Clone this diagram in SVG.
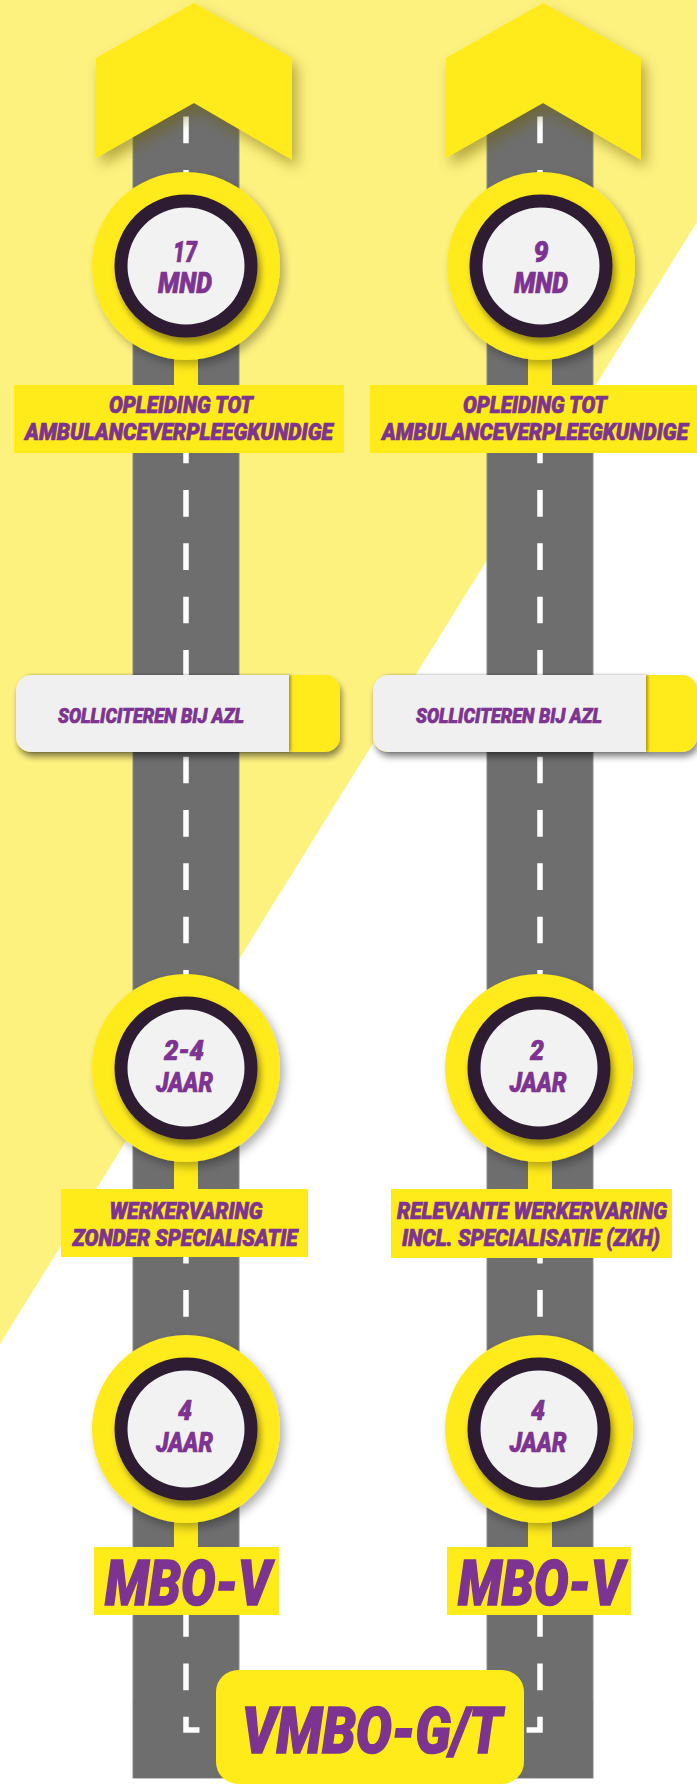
<svg xmlns="http://www.w3.org/2000/svg" width="697" height="1786" viewBox="0 0 697 1786">
<style>
.road{fill:#6e6e6e;stroke:#8a8a8a;stroke-width:1}
.dash{fill:none;stroke:#ffffff;stroke-width:5.5;stroke-dasharray:26.67 26.67}
.yel{fill:#ffea1a}
.ring{fill:#2f1a33}
.face{fill:#f2f2f2}
.gray{fill:#f0f0f0}
.t{font-family:Roboto,"Liberation Sans",sans-serif;font-weight:900;font-style:italic;fill:#7d3391;stroke:#7d3391;stroke-width:0.7;text-anchor:middle}
.big{stroke-width:1.6}
</style>
<defs>
<filter id="chevShadow" x="-20%" y="-20%" width="150%" height="150%">
<feDropShadow dx="5" dy="8" stdDeviation="7" flood-color="#6b5e00" flood-opacity="0.5"/>
</filter>
<filter id="circShadow" x="-20%" y="-20%" width="150%" height="150%">
<feDropShadow dx="4" dy="5" stdDeviation="5" flood-color="#000" flood-opacity="0.3"/>
</filter>
<filter id="ringShadow" x="-20%" y="-20%" width="150%" height="150%">
<feDropShadow dx="3" dy="6" stdDeviation="3" flood-color="#000" flood-opacity="0.4"/>
</filter>
<filter id="boxShadow" x="-10%" y="-20%" width="120%" height="160%">
<feDropShadow dx="2" dy="5" stdDeviation="3" flood-color="#000" flood-opacity="0.45"/>
</filter>
<filter id="innerShadow" x="-10%" y="-10%" width="120%" height="130%">
<feDropShadow dx="2" dy="0" stdDeviation="1.5" flood-color="#000" flood-opacity="0.35"/>
</filter>
</defs>

<g id="background">
<rect x="0" y="0" width="697" height="1786" fill="#fef27f"/>
<polygon points="697,222 697,1786 0,1786 0,1344" fill="#ffffff"/>
</g>

<g id="roads">
<rect class="road" x="133" y="60" width="106" height="1718"/>
<rect class="road" x="487" y="60" width="106" height="1718"/>
<rect x="133.5" y="1700" width="459" height="78" fill="#6e6e6e"/>
<path class="dash" d="M186,116.6 V1730 H260"/>
<path class="dash" d="M540,116.6 V1730 H466"/>
</g>

<g id="connectors">
<rect class="yel" x="174" y="355" width="24" height="32"/>
<rect class="yel" x="528" y="355" width="24" height="32"/>
<rect class="yel" x="174" y="1156" width="24" height="35"/>
<rect class="yel" x="528" y="1156" width="24" height="35"/>
<rect class="yel" x="174" y="1517" width="24" height="32"/>
<rect class="yel" x="528" y="1517" width="24" height="32"/>
</g>

<g id="chevron-left">
<polygon class="yel" filter="url(#chevShadow)" points="96,58 194,3 292,58 292,160 194,103 96,158"/>
</g>
<g id="chevron-right">
<polygon class="yel" filter="url(#chevShadow)" points="446,58 543,3 641,58 641,160 543,103 446,158"/>
</g>

<g id="circle-17mnd">
<circle class="yel" cx="186" cy="266" r="94" filter="url(#circShadow)"/>
<circle class="ring" cx="186" cy="266" r="71.5" filter="url(#ringShadow)"/>
<circle class="face" cx="186" cy="266" r="58.5"/>
<text class="t" x="185" y="262" font-size="29" textLength="24" lengthAdjust="spacingAndGlyphs">17</text>
<text class="t" x="185" y="293" font-size="29" textLength="54" lengthAdjust="spacingAndGlyphs">MND</text>
</g>
<g id="circle-9mnd">
<circle class="yel" cx="541" cy="266" r="94" filter="url(#circShadow)"/>
<circle class="ring" cx="541" cy="266" r="71.5" filter="url(#ringShadow)"/>
<circle class="face" cx="541" cy="266" r="58.5"/>
<text class="t" x="541" y="262" font-size="29" textLength="15" lengthAdjust="spacingAndGlyphs">9</text>
<text class="t" x="541" y="293" font-size="29" textLength="54" lengthAdjust="spacingAndGlyphs">MND</text>
</g>

<g id="label-opleiding-left">
<rect class="yel" x="14" y="385" width="330" height="68"/>
<text class="t" x="181" y="413" font-size="23" textLength="144" lengthAdjust="spacingAndGlyphs">OPLEIDING TOT</text>
<text class="t" x="179" y="440" font-size="23" textLength="308" lengthAdjust="spacingAndGlyphs">AMBULANCEVERPLEEGKUNDIGE</text>
</g>
<g id="label-opleiding-right">
<rect class="yel" x="370" y="385" width="327" height="68"/>
<text class="t" x="535" y="413" font-size="23" textLength="144" lengthAdjust="spacingAndGlyphs">OPLEIDING TOT</text>
<text class="t" x="535" y="440" font-size="23" textLength="306" lengthAdjust="spacingAndGlyphs">AMBULANCEVERPLEEGKUNDIGE</text>
</g>

<g id="solliciteren-left">
<rect class="yel" x="16" y="675" width="324" height="77" rx="15" filter="url(#boxShadow)"/>
<path class="gray" filter="url(#innerShadow)" d="M31,675 H289 V752 H31 A15,15 0 0 1 16,737 V690 A15,15 0 0 1 31,675 Z"/>
<text class="t" x="151" y="723" font-size="21" textLength="186" lengthAdjust="spacingAndGlyphs">SOLLICITEREN BIJ AZL</text>
</g>
<g id="solliciteren-right">
<rect class="yel" x="373" y="675" width="324" height="77" rx="15" filter="url(#boxShadow)"/>
<path class="gray" filter="url(#innerShadow)" d="M388,675 H646 V752 H388 A15,15 0 0 1 373,737 V690 A15,15 0 0 1 388,675 Z"/>
<text class="t" x="509" y="723" font-size="21" textLength="186" lengthAdjust="spacingAndGlyphs">SOLLICITEREN BIJ AZL</text>
</g>

<g id="circle-2-4jaar">
<circle class="yel" cx="186" cy="1068" r="94" filter="url(#circShadow)"/>
<circle class="ring" cx="186" cy="1068" r="71.5" filter="url(#ringShadow)"/>
<circle class="face" cx="186" cy="1068" r="58.5"/>
<text class="t" x="184" y="1060" font-size="28" textLength="40" lengthAdjust="spacingAndGlyphs">2-4</text>
<text class="t" x="184.5" y="1092" font-size="28" textLength="57" lengthAdjust="spacingAndGlyphs">JAAR</text>
</g>
<g id="circle-2jaar">
<circle class="yel" cx="539" cy="1068" r="94" filter="url(#circShadow)"/>
<circle class="ring" cx="539" cy="1068" r="71.5" filter="url(#ringShadow)"/>
<circle class="face" cx="539" cy="1068" r="58.5"/>
<text class="t" x="537" y="1060" font-size="28" textLength="14" lengthAdjust="spacingAndGlyphs">2</text>
<text class="t" x="538" y="1092" font-size="28" textLength="57" lengthAdjust="spacingAndGlyphs">JAAR</text>
</g>

<g id="label-werkervaring-left">
<rect class="yel" x="61" y="1189" width="247" height="68"/>
<text class="t" x="186" y="1219" font-size="23" textLength="153" lengthAdjust="spacingAndGlyphs">WERKERVARING</text>
<text class="t" x="185" y="1246" font-size="23" textLength="225" lengthAdjust="spacingAndGlyphs">ZONDER SPECIALISATIE</text>
</g>
<g id="label-werkervaring-right">
<rect class="yel" x="391" y="1189" width="281" height="69"/>
<text class="t" x="532" y="1219" font-size="23" textLength="270" lengthAdjust="spacingAndGlyphs">RELEVANTE WERKERVARING</text>
<text class="t" x="531" y="1246" font-size="23" textLength="258" lengthAdjust="spacingAndGlyphs">INCL. SPECIALISATIE (ZKH)</text>
</g>

<g id="circle-4jaar-left">
<circle class="yel" cx="186" cy="1429" r="94" filter="url(#circShadow)"/>
<circle class="ring" cx="186" cy="1429" r="71.5" filter="url(#ringShadow)"/>
<circle class="face" cx="186" cy="1429" r="58.5"/>
<text class="t" x="185" y="1420" font-size="28" textLength="14" lengthAdjust="spacingAndGlyphs">4</text>
<text class="t" x="184.5" y="1452" font-size="28" textLength="57" lengthAdjust="spacingAndGlyphs">JAAR</text>
</g>
<g id="circle-4jaar-right">
<circle class="yel" cx="539" cy="1429" r="94" filter="url(#circShadow)"/>
<circle class="ring" cx="539" cy="1429" r="71.5" filter="url(#ringShadow)"/>
<circle class="face" cx="539" cy="1429" r="58.5"/>
<text class="t" x="538" y="1420" font-size="28" textLength="14" lengthAdjust="spacingAndGlyphs">4</text>
<text class="t" x="538" y="1452" font-size="28" textLength="57" lengthAdjust="spacingAndGlyphs">JAAR</text>
</g>

<g id="label-mbo-left">
<rect class="yel" x="94" y="1547" width="185" height="68"/>
<text class="t big" x="188" y="1605" font-size="63" textLength="166" lengthAdjust="spacingAndGlyphs">MBO-V</text>
</g>
<g id="label-mbo-right">
<rect class="yel" x="447" y="1547" width="184" height="68"/>
<text class="t big" x="541" y="1605" font-size="63" textLength="166" lengthAdjust="spacingAndGlyphs">MBO-V</text>
</g>

<g id="vmbo">
<rect class="yel" x="216" y="1670" width="308" height="114" rx="22"/>
<text class="t big" x="372" y="1753" font-size="65" textLength="260" lengthAdjust="spacingAndGlyphs">VMBO-G/T</text>
</g>
</svg>
